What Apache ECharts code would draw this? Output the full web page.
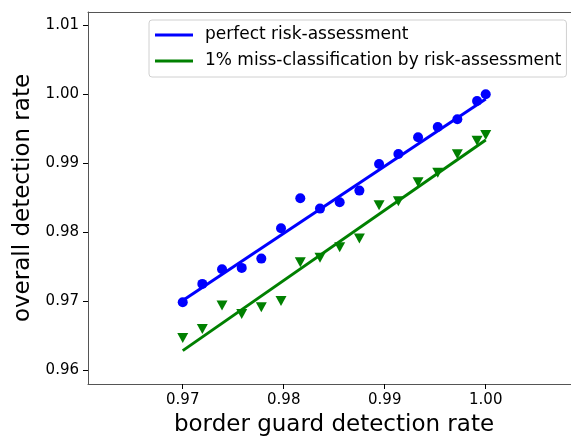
<!DOCTYPE html>
<html>
<head>
    <meta charset="UTF-8">
    <title></title>
    <script src="https://cdn.jsdelivr.net/npm/echarts@6/dist/echarts.min.js"></script>
</head>
<body style="margin:0">
<div id="container" style="height:436px;width:571px;"></div>
<script>
    // border guard detection rate (x)
    var borderRate = [0.9700, 0.97194, 0.97389, 0.97584, 0.97778, 0.97973, 0.98164, 0.98359, 0.98554,
        0.98749, 0.98944, 0.99135, 0.99330, 0.99525, 0.99719, 0.99914, 1.0000];
    // overall detection rate, perfect risk assessment
    var perfectRate = [0.96983, 0.97249, 0.97462, 0.97481, 0.97616, 0.98057, 0.98492, 0.98341, 0.98434,
        0.98602, 0.98989, 0.99134, 0.99376, 0.99526, 0.99637, 0.99903, 1.0000];
    // overall detection rate, 1% miss-classification
    var missRate = [0.96466, 0.96596, 0.96934, 0.96814, 0.96911, 0.97002, 0.97563, 0.9763, 0.97781,
        0.97906, 0.9839, 0.98448, 0.98724, 0.98863, 0.9913, 0.99327, 0.9941];
    // fitted lines (end points)
    var perfectFit = [[0.97, 0.97010], [1.00, 0.99930]];
    var missFit = [[0.97, 0.96281], [1.00, 0.99337]];

    var xTicks = [0.97, 0.98, 0.99, 1.00];
    var yTicks = [0.96, 0.97, 0.98, 0.99, 1.00, 1.01];

    var names = ['perfect risk-assessment', '1% miss-classification by risk-assessment'];

    function pairs(xs, ys) {
        return xs.map(function (x, i) { return [x, ys[i]]; });
    }

    var font = 'DejaVu Sans';
    var spine = {show: true, lineStyle: {color: '#555', width: 1}};
    var myChart = echarts.init(document.getElementById('container'));
    var option = {
        animation: false,
        textStyle: {fontFamily: font},
        grid: {
            left: 88, top: 12, width: 492, bottom: 52,
            outerBoundsMode: 'none', containLabel: false
        },
        legend: {
            data: names,
            orient: 'vertical',
            left: 149, top: 20,
            icon: 'rect',
            itemWidth: 38, itemHeight: 3,
            itemGap: 8,
            itemTextGap: 12,
            padding: [6, 5, 7, 6],
            borderColor: '#d0d0d0', borderWidth: 1, borderRadius: 3,
            backgroundColor: 'rgba(255,255,255,0.8)',
            textStyle: {fontFamily: font, fontSize: 17, color: '#000', lineHeight: 18, padding: [0, 0, 0, 7]}
        },
        xAxis: [{
            type: 'value',
            min: 0.96062, max: 1.009333,
            name: 'border guard detection rate',
            nameLocation: 'middle', nameGap: 30,
            nameTextStyle: {fontFamily: font, fontSize: 23, color: '#000'},
            axisLine: spine,
            axisTick: {show: true, customValues: xTicks, length: 5, lineStyle: {color: '#000'}},
            axisLabel: {
                customValues: xTicks, margin: 9, fontSize: 15, color: '#000', fontFamily: font,
                formatter: function (v) { return v.toFixed(2); }
            },
            splitLine: {show: false}
        }, {
            // top spine only
            type: 'value', position: 'top',
            min: 0.96062, max: 1.009333,
            axisLine: spine,
            axisTick: {show: false},
            axisLabel: {show: false},
            splitLine: {show: false}
        }],
        yAxis: {
            type: 'value',
            min: 0.95797, max: 1.01193,
            name: 'overall detection rate',
            nameLocation: 'middle', nameGap: 46,
            nameTextStyle: {fontFamily: font, fontSize: 23, color: '#000'},
            axisLine: spine,
            axisTick: {show: true, customValues: yTicks, length: 5, lineStyle: {color: '#000'}},
            axisLabel: {
                customValues: yTicks, margin: 9, fontSize: 15, color: '#000', fontFamily: font,
                formatter: function (v) { return v.toFixed(2); }
            },
            splitLine: {show: false}
        },
        series: [
            {
                name: names[0], type: 'line', data: perfectFit, symbol: 'none',
                lineStyle: {color: '#0000ff', width: 3}, itemStyle: {color: '#0000ff'}
            },
            {
                name: names[1], type: 'line', data: missFit, symbol: 'none',
                lineStyle: {color: '#008000', width: 3}, itemStyle: {color: '#008000'}
            },
            {
                name: 'perfect points', type: 'scatter', data: pairs(borderRate, perfectRate),
                symbol: 'circle', symbolSize: 10, itemStyle: {color: '#0000ff', opacity: 1}
            },
            {
                name: 'miss points', type: 'scatter', data: pairs(borderRate, missRate),
                symbol: 'triangle', symbolRotate: 180, symbolSize: [11, 10],
                itemStyle: {color: '#008000', opacity: 1}
            }
        ]
    };
    myChart.setOption(option);
</script>
</body>
</html>
